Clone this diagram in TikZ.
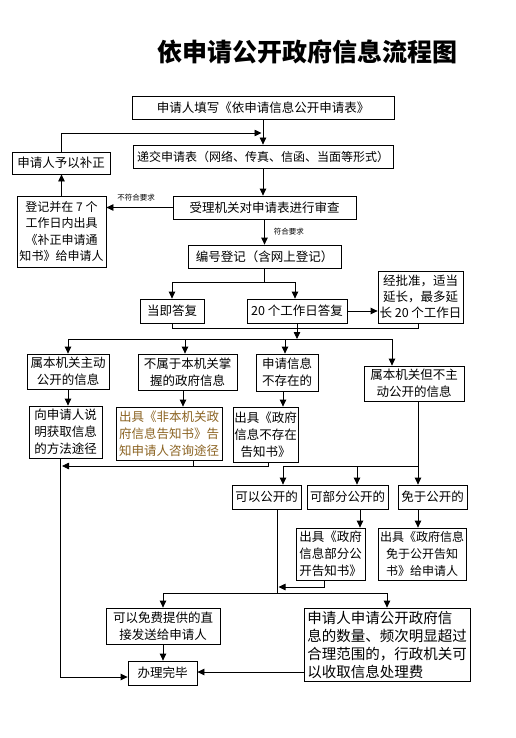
\documentclass[tikz,border=0pt]{standalone}
\usepackage{fontspec}
\setmainfont{Noto Sans CJK SC}
\usepackage{tikz}
\usetikzlibrary{arrows.meta}

\definecolor{notecolor}{RGB}{140,100,35}

\begin{document}
\begin{tikzpicture}[x=1pt, y=-1pt, line width=0.8pt, >={Triangle[length=7pt, width=6.5pt]},
    flow box/.style={draw, inner sep=0pt, align=center, font=\fontsize{12.5}{17}\selectfont},
    note label/.style={inner sep=1pt, font=\fontsize{7.5}{9}\selectfont}]
    \fill[white] (0,0) rectangle (516,738);

    \node[font=\fontsize{25}{30}\selectfont\bfseries] (title) at (307,52) {依申请公开政府信息流程图};

    \node[flow box, minimum width=262pt, minimum height=23pt] (fill) at (263,107.5) {申请人填写《依申请信息公开申请表》};
    \node[flow box, minimum width=260pt, minimum height=23pt, font=\fontsize{12}{17}\selectfont] (submit) at (263,156.5) {递交申请表（网络、传真、信函、当面等形式）};
    \node[flow box, minimum width=98pt, minimum height=22pt] (correct) at (61,163) {申请人予以补正};
    \node[flow box, minimum width=89pt, minimum height=71pt, font=\fontsize{12}{16.5}\selectfont] (notice) at (61.5,231.5) {登记并在 7 个\\工作日内出具\\《补正申请通\\知书》给申请人};
    \node[flow box, minimum width=183pt, minimum height=23pt] (review) at (264.5,207.5) {受理机关对申请表进行审查};
    \node[flow box, minimum width=153pt, minimum height=23pt] (register) at (264.5,256.5) {编号登记（含网上登记）};

    \node[flow box, minimum width=64pt, minimum height=24pt] (now) at (172,311) {当即答复};
    \node[flow box, minimum width=100pt, minimum height=24pt] (twenty) at (297,311) {20 个工作日答复};
    \node[flow box, minimum width=85pt, minimum height=52pt, font=\fontsize{12.5}{16}\selectfont] (extend) at (420.5,297) {经批准，适当\\延长，最多延\\长 20 个工作日};

    \node[flow box, minimum width=82pt, minimum height=35pt] (active) at (68,371.5) {属本机关主动\\公开的信息};
    \node[flow box, minimum width=99pt, minimum height=36pt] (notours) at (187.5,372) {不属于本机关掌\\握的政府信息};
    \node[flow box, minimum width=62pt, minimum height=37pt] (nonexist) at (287,372.5) {申请信息\\不存在的};
    \node[flow box, minimum width=100pt, minimum height=35pt] (notactive) at (414,383.5) {属本机关但不主\\动公开的信息};

    \node[flow box, minimum width=73pt, minimum height=52pt] (explain) at (65.5,432) {向申请人说\\明获取信息\\的方法途径};
    \node[flow box, minimum width=106pt, minimum height=53pt, text=notecolor] (referral) at (169,433.5) {出具《非本机关政\\府信息告知书》告\\知申请人咨询途径};
    \node[flow box, minimum width=65pt, minimum height=55pt] (nonexistnote) at (265.5,434.5) {出具《政府\\信息不存在\\告知书》};

    \node[flow box, minimum width=69pt, minimum height=24pt] (open) at (266.5,497) {可以公开的};
    \node[flow box, minimum width=81pt, minimum height=24pt] (partial) at (347.5,497) {可部分公开的};
    \node[flow box, minimum width=69pt, minimum height=24pt] (exempt) at (432.5,497) {免于公开的};

    \node[flow box, minimum width=69pt, minimum height=52pt] (partialnote) at (330.5,554) {出具《政府\\信息部分公\\开告知书》};
    \node[flow box, minimum width=88pt, minimum height=52pt, font=\fontsize{12}{17}\selectfont] (exemptnote) at (422,554) {出具《政府信息\\免于公开告知\\书》给申请人};

    \node[flow box, minimum width=114pt, minimum height=36pt] (free) at (163,626) {可以免费提供的直\\接发送给申请人};
    \node[flow box, minimum width=166pt, minimum height=73pt, align=left, font=\fontsize{14.5}{18}\selectfont] (fee) at (387,644.5) {申请人申请公开政府信\\息的数量、频次明显超过\\合理范围的，行政机关可\\以收取信息处理费};
    \node[flow box, minimum width=69pt, minimum height=24pt] (done) at (162.5,673) {办理完毕};

    \draw[->] (fill.south) -- (submit.north);
    \coordinate (back) at (261.5,133);
    \draw[->] (correct.north) |- (back);
    \draw[->] (submit.south) -- (submit.south |- review.north);
    \draw[->] (review.west) -- (review.west -| notice.east) node[note label, pos=0.55, above=5pt] {不符合要求};
    \draw[->] (notice.north) -- (notice.north |- correct.south);
    \draw[->] (review.south) -- (review.south |- register.north) node[note label, midway, right=8pt] {符合要求};

    \coordinate (split) at (264.5,282);
    \draw (register.south) -- (split);
    \draw[->] (split) -| (now.north);
    \draw[->] (split) -| ([xshift=-2pt]twenty.north);
    \draw[->] (twenty.east) -- (twenty.east -| extend.west);

    \coordinate (join) at (297,328);
    \coordinate (bus) at (297,339);
    \draw (now.south) |- (join);
    \draw ([xshift=-2.5pt]extend.south) |- (join);
    \draw (twenty.south) -- (join);
    \draw[->] (join) -- (bus);
    \draw[->] (bus) -| (active.north);
    \draw[->] (bus) -| ([xshift=-2.5pt]notours.north);
    \draw[->] (bus) -| ([xshift=-2pt]nonexist.north);
    \draw[->] (bus) -| ([xshift=-22pt]notactive.north);

    \draw[->] (active.south) -- (active.south |- explain.north);
    \draw[->] ([xshift=-4.5pt]notours.south) -- ([xshift=-4.5pt]notours.south |- referral.north);
    \draw[->] ([xshift=-4pt]nonexist.south) -- ([xshift=-4pt]nonexist.south |- nonexistnote.north);

    \coordinate (gather) at (62,466);
    \draw[->] ([xshift=2.5pt]nonexistnote.south) |- (gather);
    \draw ([xshift=24pt]referral.south) -- ([xshift=24pt]referral.south |- gather);
    \draw[->] ([xshift=-5pt]explain.south) |- ([yshift=-4pt]done.west);

    \coordinate (split2) at (418,466);
    \draw ([xshift=4pt]notactive.south) -- (split2);
    \draw[->] (split2) -| ([xshift=16.5pt]open.north);
    \draw[->] (split2) -| ([xshift=9.5pt]partial.north);
    \draw[->] (split2) -| ([xshift=-14.5pt]exempt.north);
    \draw[->] ([xshift=12.5pt]partial.south) -- ([xshift=12.5pt]partial.south |- partialnote.north);
    \draw[->] ([xshift=-14.5pt]exempt.south) -- ([xshift=-14.5pt]exempt.south |- exemptnote.north);

    \coordinate (split3) at (277,593);
    \coordinate (pickup) at (278.5,587);
    \draw ([xshift=10.5pt]open.south) -- (split3);
    \draw[->] ([xshift=-6.5pt]partialnote.south) |- (pickup);
    \draw[->] (split3) -| (free.north);
    \draw[->] (split3) -| (fee.north);
    \draw[->] (free.south) -- (free.south |- done.north);
    \draw[->] ([yshift=-27.5pt]fee.west) -- ([yshift=-27.5pt]fee.west -| done.east);
\end{tikzpicture}
\end{document}
